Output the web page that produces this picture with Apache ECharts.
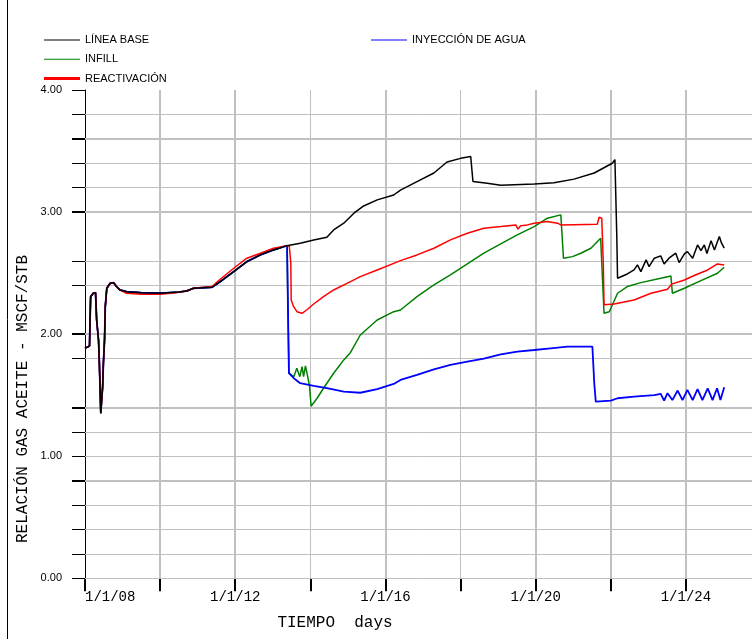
<!DOCTYPE html>
<html><head><meta charset="utf-8">
<script src="https://cdn.jsdelivr.net/npm/echarts@6/dist/echarts.min.js"></script>
<style>html,body{margin:0;padding:0;background:#fff}#c{width:752px;height:639px}</style>
</head><body><div id="c"></div>
<script>
// ---- data (year as decimal, gas-oil ratio MSCF/STB) ----
const seriesNames = ['LÍNEA BASE', 'INYECCIÓN DE AGUA', 'INFILL', 'REACTIVACIÓN'];

const earlyHistory = [
  [2008.00, 1.884], [2008.03, 1.893], [2008.12, 1.903], [2008.13, 2.048], [2008.15, 2.307],
  [2008.22, 2.335], [2008.28, 2.34], [2008.31, 2.116], [2008.36, 1.952], [2008.38, 1.788],
  [2008.40, 1.57], [2008.42, 1.352], [2008.45, 1.352], [2008.47, 1.57], [2008.49, 1.762],
  [2008.52, 1.952], [2008.54, 2.225], [2008.58, 2.376], [2008.67, 2.417], [2008.76, 2.422],
  [2008.84, 2.39], [2008.93, 2.362]
];

const baseMiddle = [
  [2009.11, 2.348], [2009.5, 2.34], [2010.0, 2.335], [2010.5, 2.345], [2010.71, 2.354],
  [2010.89, 2.376], [2011.38, 2.384], [2011.6, 2.43], [2011.96, 2.512], [2012.31, 2.594],
  [2012.67, 2.649], [2013.02, 2.69], [2013.38, 2.725]
];

const reactMiddle = [
  [2009.11, 2.335], [2009.5, 2.327], [2010.0, 2.327], [2010.4, 2.34], [2010.71, 2.354],
  [2010.89, 2.376], [2011.38, 2.39], [2011.6, 2.45], [2011.96, 2.54], [2012.31, 2.622],
  [2012.67, 2.663], [2013.02, 2.704], [2013.38, 2.725]
];

const baseForecast = [
  [2013.73, 2.745], [2014.09, 2.772], [2014.44, 2.794], [2014.62, 2.854], [2014.89, 2.909],
  [2015.16, 2.991], [2015.42, 3.05], [2015.78, 3.10], [2016.22, 3.14], [2016.4, 3.18],
  [2016.84, 3.25], [2017.29, 3.32], [2017.64, 3.41], [2018.0, 3.44], [2018.27, 3.455],
  [2018.33, 3.25], [2018.71, 3.236], [2019.07, 3.22], [2019.96, 3.23], [2020.49, 3.24],
  [2021.02, 3.27], [2021.56, 3.32], [2022.04, 3.40], [2022.11, 3.43], [2022.16, 2.80],
  [2022.18, 2.458], [2022.44, 2.493], [2022.62, 2.526], [2022.71, 2.567], [2022.80, 2.512],
  [2022.94, 2.608], [2023.02, 2.553], [2023.16, 2.622], [2023.33, 2.641], [2023.42, 2.575],
  [2023.55, 2.622], [2023.73, 2.663], [2023.82, 2.586], [2023.96, 2.657], [2024.04, 2.676],
  [2024.18, 2.622], [2024.31, 2.731], [2024.40, 2.684], [2024.49, 2.731], [2024.56, 2.66],
  [2024.67, 2.766], [2024.76, 2.69], [2024.89, 2.80], [2024.95, 2.745], [2025.02, 2.704]
];

const waterForecast = [
  [2013.42, 2.725], [2013.43, 1.68], [2013.56, 1.639], [2013.73, 1.598], [2014.09, 1.576],
  [2014.44, 1.557], [2014.89, 1.529], [2015.33, 1.52], [2015.78, 1.549], [2016.22, 1.592],
  [2016.4, 1.625], [2016.84, 1.666], [2017.29, 1.712], [2017.73, 1.748], [2018.18, 1.775],
  [2018.62, 1.80], [2019.07, 1.835], [2019.51, 1.857], [2019.96, 1.87], [2020.4, 1.884],
  [2020.84, 1.898], [2021.51, 1.898], [2021.56, 1.598], [2021.6, 1.447], [2022.0, 1.455],
  [2022.18, 1.475], [2022.62, 1.488], [2023.16, 1.50], [2023.33, 1.51], [2023.42, 1.455],
  [2023.51, 1.516], [2023.64, 1.46], [2023.78, 1.538], [2023.91, 1.46], [2024.04, 1.543],
  [2024.18, 1.46], [2024.31, 1.549], [2024.44, 1.46], [2024.58, 1.555], [2024.71, 1.46],
  [2024.83, 1.557], [2024.92, 1.46], [2025.02, 1.565]
];

const infillForecast = [
  [2013.42, 2.725], [2013.43, 1.68], [2013.56, 1.652], [2013.64, 1.72], [2013.72, 1.652],
  [2013.78, 1.734], [2013.82, 1.652], [2013.87, 1.74], [2013.93, 1.652], [2013.98, 1.57],
  [2014.02, 1.41], [2014.18, 1.475], [2014.35, 1.557], [2014.44, 1.598], [2014.62, 1.68],
  [2014.89, 1.789], [2015.07, 1.85], [2015.33, 1.993], [2015.78, 2.116], [2016.22, 2.184],
  [2016.4, 2.198], [2016.84, 2.307], [2017.29, 2.403], [2017.73, 2.485], [2018.18, 2.575],
  [2018.62, 2.663], [2019.07, 2.739], [2019.51, 2.813], [2019.96, 2.881], [2020.31, 2.95],
  [2020.67, 2.977], [2020.71, 2.98], [2020.74, 2.622], [2020.98, 2.635], [2021.2, 2.663],
  [2021.47, 2.704], [2021.73, 2.786], [2021.78, 2.444], [2021.82, 2.171], [2021.96, 2.184],
  [2022.18, 2.335], [2022.44, 2.39], [2022.8, 2.422], [2023.33, 2.458], [2023.6, 2.477],
  [2023.64, 2.335], [2023.96, 2.376], [2024.4, 2.438], [2024.84, 2.499], [2025.02, 2.548]
];

const reactForecast = [
  [2013.44, 2.72], [2013.48, 2.58], [2013.49, 2.28], [2013.555, 2.225], [2013.645, 2.184],
  [2013.78, 2.171], [2013.91, 2.20], [2014.09, 2.247], [2014.35, 2.307], [2014.62, 2.362],
  [2015.07, 2.43], [2015.33, 2.471], [2015.78, 2.526], [2016.22, 2.58], [2016.4, 2.602],
  [2016.84, 2.649], [2017.29, 2.704], [2017.73, 2.772], [2018.18, 2.827], [2018.62, 2.868],
  [2019.07, 2.881], [2019.47, 2.895], [2019.53, 2.86], [2019.6, 2.888], [2019.78, 2.895],
  [2019.96, 2.909], [2020.31, 2.922], [2020.58, 2.909], [2020.67, 2.895], [2021.64, 2.90],
  [2021.69, 2.958], [2021.76, 2.95], [2021.8, 2.58], [2021.82, 2.24], [2022.09, 2.247],
  [2022.62, 2.28], [2023.07, 2.335], [2023.51, 2.368], [2023.62, 2.41], [2023.96, 2.444],
  [2024.22, 2.48], [2024.58, 2.526], [2024.84, 2.575], [2025.02, 2.567]
];

// ---- axes: ticks, labels, grid lines ----
const xTickYears = [2008, 2010, 2012, 2014, 2016, 2018, 2020, 2022, 2024];
const xLabelYears = [2008, 2012, 2016, 2020, 2024];
const xLabelTexts = ['1/1/08', '1/1/12', '1/1/16', '1/1/20', '1/1/24'];
const xThinGrid = [2014, 2018];
const xThickGrid = [2010, 2012, 2016, 2020, 2022, 2024];

const yLabelValues = [0, 1, 2, 3, 4];
const yLabelTexts = ['0.00', '1.00', '2.00', '3.00', '4.00'];
const yThinTicks = [0, 0.2, 0.4, 0.6, 1.0, 1.2, 1.8, 2.4, 2.6, 3.2, 3.4, 3.8, 4.0];
const yThickTicks = [0.8, 1.4, 2.0, 3.0, 3.6];
const yThinGrid = [0, 0.2, 0.4, 0.6, 1.0, 1.2, 1.8, 2.4, 2.6, 3.2, 3.4, 3.8];
const yThickGrid = [0.8, 1.4, 2.0, 3.0, 3.6];

const xAxisName = 'TIEMPO  days';
const yAxisName = 'RELACIÓN GAS ACEITE - MSCF/STB';

// ---- build series ----
const blackData = earlyHistory.concat(baseMiddle, baseForecast);
const blueData = earlyHistory.concat(baseMiddle, waterForecast);
const greenData = earlyHistory.concat(baseMiddle, infillForecast);
const redData = earlyHistory.concat(reactMiddle, reactForecast);

const GRID_COLOR = '#c0c0c0';
// legend icons: plain horizontal bars (no symbol), bbox padded to the full icon box
const ICON_THIN = 'path://M0,0M0,5.5L36,5.5L36,6.5L0,6.5ZM36,12';
const ICON_THICK = 'path://M0,0M0,4.5L36,4.5L36,7.5L0,7.5ZM36,12';

function pick(vals, texts, v) {
  for (let i = 0; i < vals.length; i++) if (Math.abs(vals[i] - v) < 1e-6) return texts[i];
  return '';
}
function lineSeries(name, data, color, width) {
  return {
    name, type: 'line', data, symbol: 'none', showSymbol: false, z: 3,
    lineStyle: { color, width }, itemStyle: { color },
    emphasis: { disabled: true }, animation: false, clip: true
  };
}

const gridMarks = [].concat(
  yThinGrid.map(v => ({ yAxis: v, lineStyle: { width: 1 } })),
  yThickGrid.map(v => ({ yAxis: v, lineStyle: { width: 2 } })),
  xThinGrid.map(v => ({ xAxis: v, lineStyle: { width: 1 } })),
  xThickGrid.map(v => ({ xAxis: v, lineStyle: { width: 2 } }))
);

const legendText = { fontSize: 11, fontFamily: '"Liberation Sans", Arial, sans-serif', color: '#000' };

const option = {
  backgroundColor: '#fff',
  animation: false,
  grid: { left: 85, top: 90, right: 0, bottom: 60.7, containLabel: false, outerBoundsMode: 'none' },
  legend: [
    {
      left: 44, top: 34, orient: 'vertical', itemWidth: 36, itemHeight: 12, itemGap: 7.3,
      padding: 0, selectedMode: false, textStyle: legendText,
      data: [
        { name: seriesNames[0], icon: ICON_THIN, itemStyle: { color: '#000000' } },
        { name: seriesNames[2], icon: ICON_THIN, itemStyle: { color: '#008000' } },
        { name: seriesNames[3], icon: ICON_THICK, itemStyle: { color: '#ff0000' } }
      ]
    },
    {
      left: 371, top: 34, orient: 'vertical', itemWidth: 36, itemHeight: 12,
      padding: 0, selectedMode: false, textStyle: legendText,
      data: [{ name: seriesNames[1], icon: ICON_THIN, itemStyle: { color: '#0000ff' } }]
    }
  ],
  xAxis: {
    type: 'value', min: 2008, max: 2025.76, interval: 2,
    axisLine: { show: false },
    axisTick: { show: true, length: 13, customValues: xTickYears, lineStyle: { color: '#000', width: 2 } },
    axisLabel: {
      customValues: xLabelYears, margin: 12, alignMinLabel: 'left',
      fontSize: 14, fontFamily: '"Liberation Mono", monospace', color: '#000',
      formatter: v => pick(xLabelYears, xLabelTexts, v)
    },
    splitLine: { show: false }
  },
  yAxis: [
    {
      type: 'value', min: 0, max: 4, interval: 0.2, position: 'left',
      axisLine: { show: true, onZero: false, lineStyle: { color: '#000', width: 1 } },
      axisTick: { show: true, length: 13, customValues: yThinTicks, lineStyle: { color: '#000', width: 1 } },
      axisLabel: {
        customValues: yLabelValues, margin: 23,
        fontSize: 11, fontFamily: '"Liberation Sans", Arial, sans-serif', color: '#000',
        formatter: v => pick(yLabelValues, yLabelTexts, v)
      },
      splitLine: { show: false }
    },
    {
      type: 'value', min: 0, max: 4, interval: 0.2, position: 'left', offset: 0,
      axisLine: { show: false },
      axisTick: { show: true, length: 13, customValues: yThickTicks, lineStyle: { color: '#000', width: 2 } },
      axisLabel: { show: false },
      splitLine: { show: false }
    }
  ],
  graphic: [
    { type: 'line', silent: true, shape: { x1: 7.5, y1: 0, x2: 7.5, y2: 639 }, style: { stroke: '#000', lineWidth: 1 } },
    {
      type: 'text', silent: true, x: 335, y: 623,
      style: { text: xAxisName, font: '16px "Liberation Mono", monospace', fill: '#000', align: 'center', verticalAlign: 'middle' }
    },
    {
      type: 'text', silent: true, x: 22.5, y: 399, rotation: Math.PI / 2,
      style: { text: yAxisName, font: '16px "Liberation Mono", monospace', fill: '#000', align: 'center', verticalAlign: 'middle' }
    }
  ],
  series: [
    {
      type: 'line', data: [], silent: true, z: 1,
      markLine: {
        silent: true, z: 1, animation: false, symbol: ['none', 'none'],
        label: { show: false }, emphasis: { disabled: true },
        lineStyle: { color: GRID_COLOR, type: 'solid' },
        data: gridMarks
      }
    },
    lineSeries(seriesNames[2], greenData, '#008000', 1.5),
    lineSeries(seriesNames[1], blueData, '#0000ff', 1.8),
    lineSeries(seriesNames[3], redData, '#ff0000', 1.5),
    lineSeries(seriesNames[0], blackData, '#000000', 1.5)
  ]
};

const chart = echarts.init(document.getElementById('c'), null, { renderer: 'canvas' });
chart.setOption(option);
</script>
</body></html>
